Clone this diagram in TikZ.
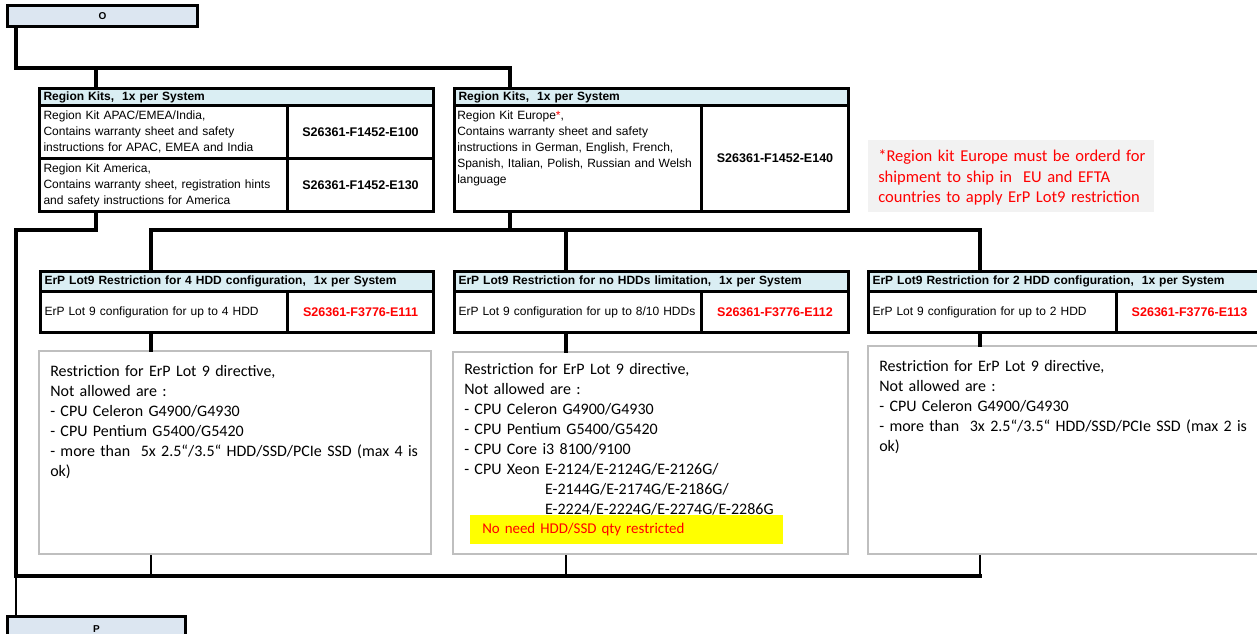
\documentclass[tikz,border=0pt]{standalone}
\usepackage{fontspec}
\setmainfont{Liberation Sans}
\newfontfamily\calib{Carlito}
\usetikzlibrary{calc}
\definecolor{boxblue}{HTML}{DCE6F1}
\definecolor{hdrblue}{HTML}{DAEEF3}
\definecolor{tbgray}{HTML}{BFBFBF}
\definecolor{notegray}{HTML}{F2F2F2}
\definecolor{erpred}{HTML}{FF0000}
\definecolor{hlyellow}{HTML}{FFFF00}
\newcommand{\arsz}{\fontsize{9}{12}\selectfont}
\newcommand{\partsz}{\fontsize{9.4}{12}\selectfont\bfseries}
\newcommand{\calsz}{\calib\fontsize{12}{15}\selectfont}
\begin{document}
\begin{tikzpicture}[x=0.75pt,y=-0.75pt,
  conn/.style={line width=2.5pt,line cap=rect},
  thinconn/.style={line width=1.7pt},
  cell/.style={draw=black,line width=2.3pt,fill=white,inner sep=0pt,anchor=north west},
  hdrcell/.style={cell,fill=hdrblue,align=left,inner xsep=3pt,font=\arsz\bfseries},
  lcell/.style={cell,align=left,inner xsep=3pt,font=\arsz},
  pcell/.style={cell,font=\partsz},
  rpcell/.style={cell,font=\partsz,text=erpred},
  lblbox/.style={cell,fill=boxblue,font=\fontsize{7.5}{8}\selectfont\bfseries},
  tbox/.style={draw=tbgray,line width=1.6pt,fill=white,inner sep=0pt,anchor=north west},
  tbtext/.style={anchor=base west,inner sep=0pt,align=left,text width=300pt,font=\calsz},
]
\useasboundingbox (0,0) rectangle (1257,634);

% top and bottom label boxes
\node[lblbox,minimum width=142.5pt,minimum height=15.75pt] (O) at (6,4) {O};
\node[lblbox,minimum width=133.5pt,minimum height=19.5pt] (P) at (6,615) {P};

% Region kits table 1
\node[hdrcell,minimum height=12.75pt,text width=289.5pt] (RK1h) at (38,87) {Region Kits,\ \ 1x per System};
\node[lcell,minimum height=39.75pt,text width=180pt] (RK1a) at (38,104) {Region Kit APAC/EMEA/India,\\Contains warranty sheet and safety\\instructions for APAC, EMEA and India};
\node[pcell,minimum width=109.5pt,minimum height=39.75pt] (RK1ap) at (286,104) {S26361-F1452-E100};
\node[lcell,minimum height=39.75pt,text width=180pt] (RK1b) at (38,157) {Region Kit America,\\Contains warranty sheet, registration hints\\and safety instructions for America};
\node[pcell,minimum width=109.5pt,minimum height=39.75pt] (RK1bp) at (286,157) {S26361-F1452-E130};

% Region kits table 2
\node[hdrcell,minimum height=12.75pt,text width=289.5pt] (RK2h) at (453,87) {Region Kits,\ \ 1x per System};
\node[cell,minimum width=185.25pt,minimum height=79.5pt] (RK2a) at (453,104) {};
\node[anchor=base west,inner sep=0pt,align=left,text width=182pt,font=\arsz] (RK2t) at (457,119.5) {Region Kit Europe{\color{erpred}*},\\Contains warranty sheet and safety\\instructions in German, English, French,\\Spanish, Italian, Polish, Russian and Welsh\\language};
\node[pcell,minimum width=110.25pt,minimum height=79.5pt] (RK2ap) at (700,104) {S26361-F1452-E140};

% note
\node[fill=notegray,inner sep=0pt,anchor=north west,minimum width=214.5pt,minimum height=54pt] (NT) at (868,140) {};
\node[anchor=base west,inner sep=0pt,align=left,text width=212pt,text=erpred,font=\calib\fontsize{12.4}{15.3}\selectfont] (NTt) at (878,162) {*Region kit Europe must be orderd for\\shipment to ship in\ \ EU and EFTA\\countries to apply ErP Lot9 restriction};

% ErP tables
\node[hdrcell,minimum height=15pt,text width=288.75pt] (E1h) at (39,270) {ErP Lot9 Restriction for 4 HDD configuration,\ \ 1x per System};
\node[lcell,minimum height=30.75pt,text width=179.25pt] (E1a) at (39,290) {ErP Lot 9 configuration for up to 4 HDD};
\node[rpcell,minimum width=109.5pt,minimum height=30.75pt] (E1p) at (286,290) {S26361-F3776-E111};

\node[hdrcell,minimum height=15pt,text width=289.5pt] (E2h) at (453,270) {ErP Lot9 Restriction for no HDDs limitation,\ \ 1x per System};
\node[lcell,minimum height=30.75pt,text width=179.25pt] (E2a) at (453,290) {ErP Lot 9 configuration for up to 8/10 HDDs};
\node[rpcell,minimum width=110.25pt,minimum height=30.75pt] (E2p) at (700,290) {S26361-F3776-E112};

\node[hdrcell,minimum height=15pt,text width=294pt] (E3h) at (867,270) {ErP Lot9 Restriction for 2 HDD configuration,\ \ 1x per System};
\node[lcell,minimum height=30.75pt,text width=180pt] (E3a) at (867,290) {ErP Lot 9 configuration for up to 2 HDD};
\node[rpcell,minimum width=109.5pt,minimum height=30.75pt] (E3p) at (1115,290) {S26361-F3776-E113};

% restriction text boxes
\node[tbox,minimum width=294pt,minimum height=152.25pt] (TB1) at (38,350) {};
\node[tbtext] (TB1t) at (50,377) {Restriction for ErP Lot 9 directive,\\Not allowed are :\\- CPU Celeron G4900/G4930\\- CPU Pentium G5400/G5420\\- more than\ \ 5x 2.5“/3.5“ HDD/SSD/PCIe SSD (max 4 is\\ok)};

\node[tbox,minimum width=296.25pt,minimum height=151.5pt] (TB2) at (452,351) {};
\node[tbtext] (TB2t) at (464,375) {Restriction for ErP Lot 9 directive,\\Not allowed are :\\- CPU Celeron G4900/G4930\\- CPU Pentium G5400/G5420\\- CPU Core i3 8100/9100\\- CPU Xeon E-2124/E-2124G/E-2126G/\\\phantom{- CPU Xeon }E-2144G/E-2174G/E-2186G/\\\phantom{- CPU Xeon }E-2224/E-2224G/E-2274G/E-2286G};
\node[fill=hlyellow,inner sep=0pt,inner xsep=9pt,anchor=north west,minimum height=21.75pt,text width=216.75pt,align=left,text=erpred,font=\calib\fontsize{11.2}{13}\selectfont] (YL) at (470,515) {No need HDD/SSD qty restricted};

\node[tbox,minimum width=300pt,minimum height=156pt] (TB3) at (867,345) {};
\node[tbtext] (TB3t) at (879,372) {Restriction for ErP Lot 9 directive,\\Not allowed are :\\- CPU Celeron G4900/G4930\\- more than\ \ 3x 2.5“/3.5“ HDD/SSD/PCIe SSD (max 2 is\\ok)};

% connection points
\coordinate (j1) at (16,68);
\coordinate (j2) at (16,230);
\coordinate (j3) at (16,576);
\coordinate (rk1t) at ($(RK1h.north west)+(58,0)$);
\coordinate (rk2t) at ($(RK2h.north west)+(57,0)$);
\coordinate (rk1b) at ($(RK1b.south west)+(58,0)$);
\coordinate (rk2b) at ($(RK2a.south west)+(57,0)$);
\coordinate (e1t) at ($(E1h.north west)+(112,0)$);
\coordinate (e2t) at ($(E2h.north west)+(113,0)$);
\coordinate (e3t) at ($(E3h.north west)+(113,0)$);
\coordinate (e1b) at ($(E1a.south west)+(112,0)$);
\coordinate (e2b) at ($(E2a.south west)+(113,0)$);
\coordinate (e3b) at ($(E3a.south west)+(113,0)$);

% connectors
\draw[conn] (O.south -| j1) -- (j1) -- (j1 -| rk2t) -- (rk2t);
\draw[conn] (j1 -| rk1t) -- (rk1t);
\draw[conn] (rk1b) -- (rk1b |- j2) -- (j2) -- (j3);
\draw[conn] (rk2b) -- (rk2b |- j2);
\draw[conn] (e1t |- j2) -- (e3t |- j2);
\draw[conn] (e1t |- j2) -- (e1t);
\draw[conn] (e2t |- j2) -- (e2t);
\draw[conn] (e3t |- j2) -- (e3t);
\draw[conn] (e1b) -- (TB1.north -| e1b);
\draw[conn] (e2b) -- (TB2.north -| e2b);
\draw[conn] (e3b) -- (TB3.north -| e3b);
\draw[thinconn] (TB1.south -| e1b) -- (j3 -| e1b);
\draw[thinconn] (TB2.south -| e2b) -- (j3 -| e2b);
\draw[thinconn] (TB3.south -| e3b) -- (j3 -| e3b);
\draw[conn] (j3) -- (j3 -| e3b);
\draw[thinconn] (j3) -- (P.north -| j3);
\end{tikzpicture}
\end{document}
